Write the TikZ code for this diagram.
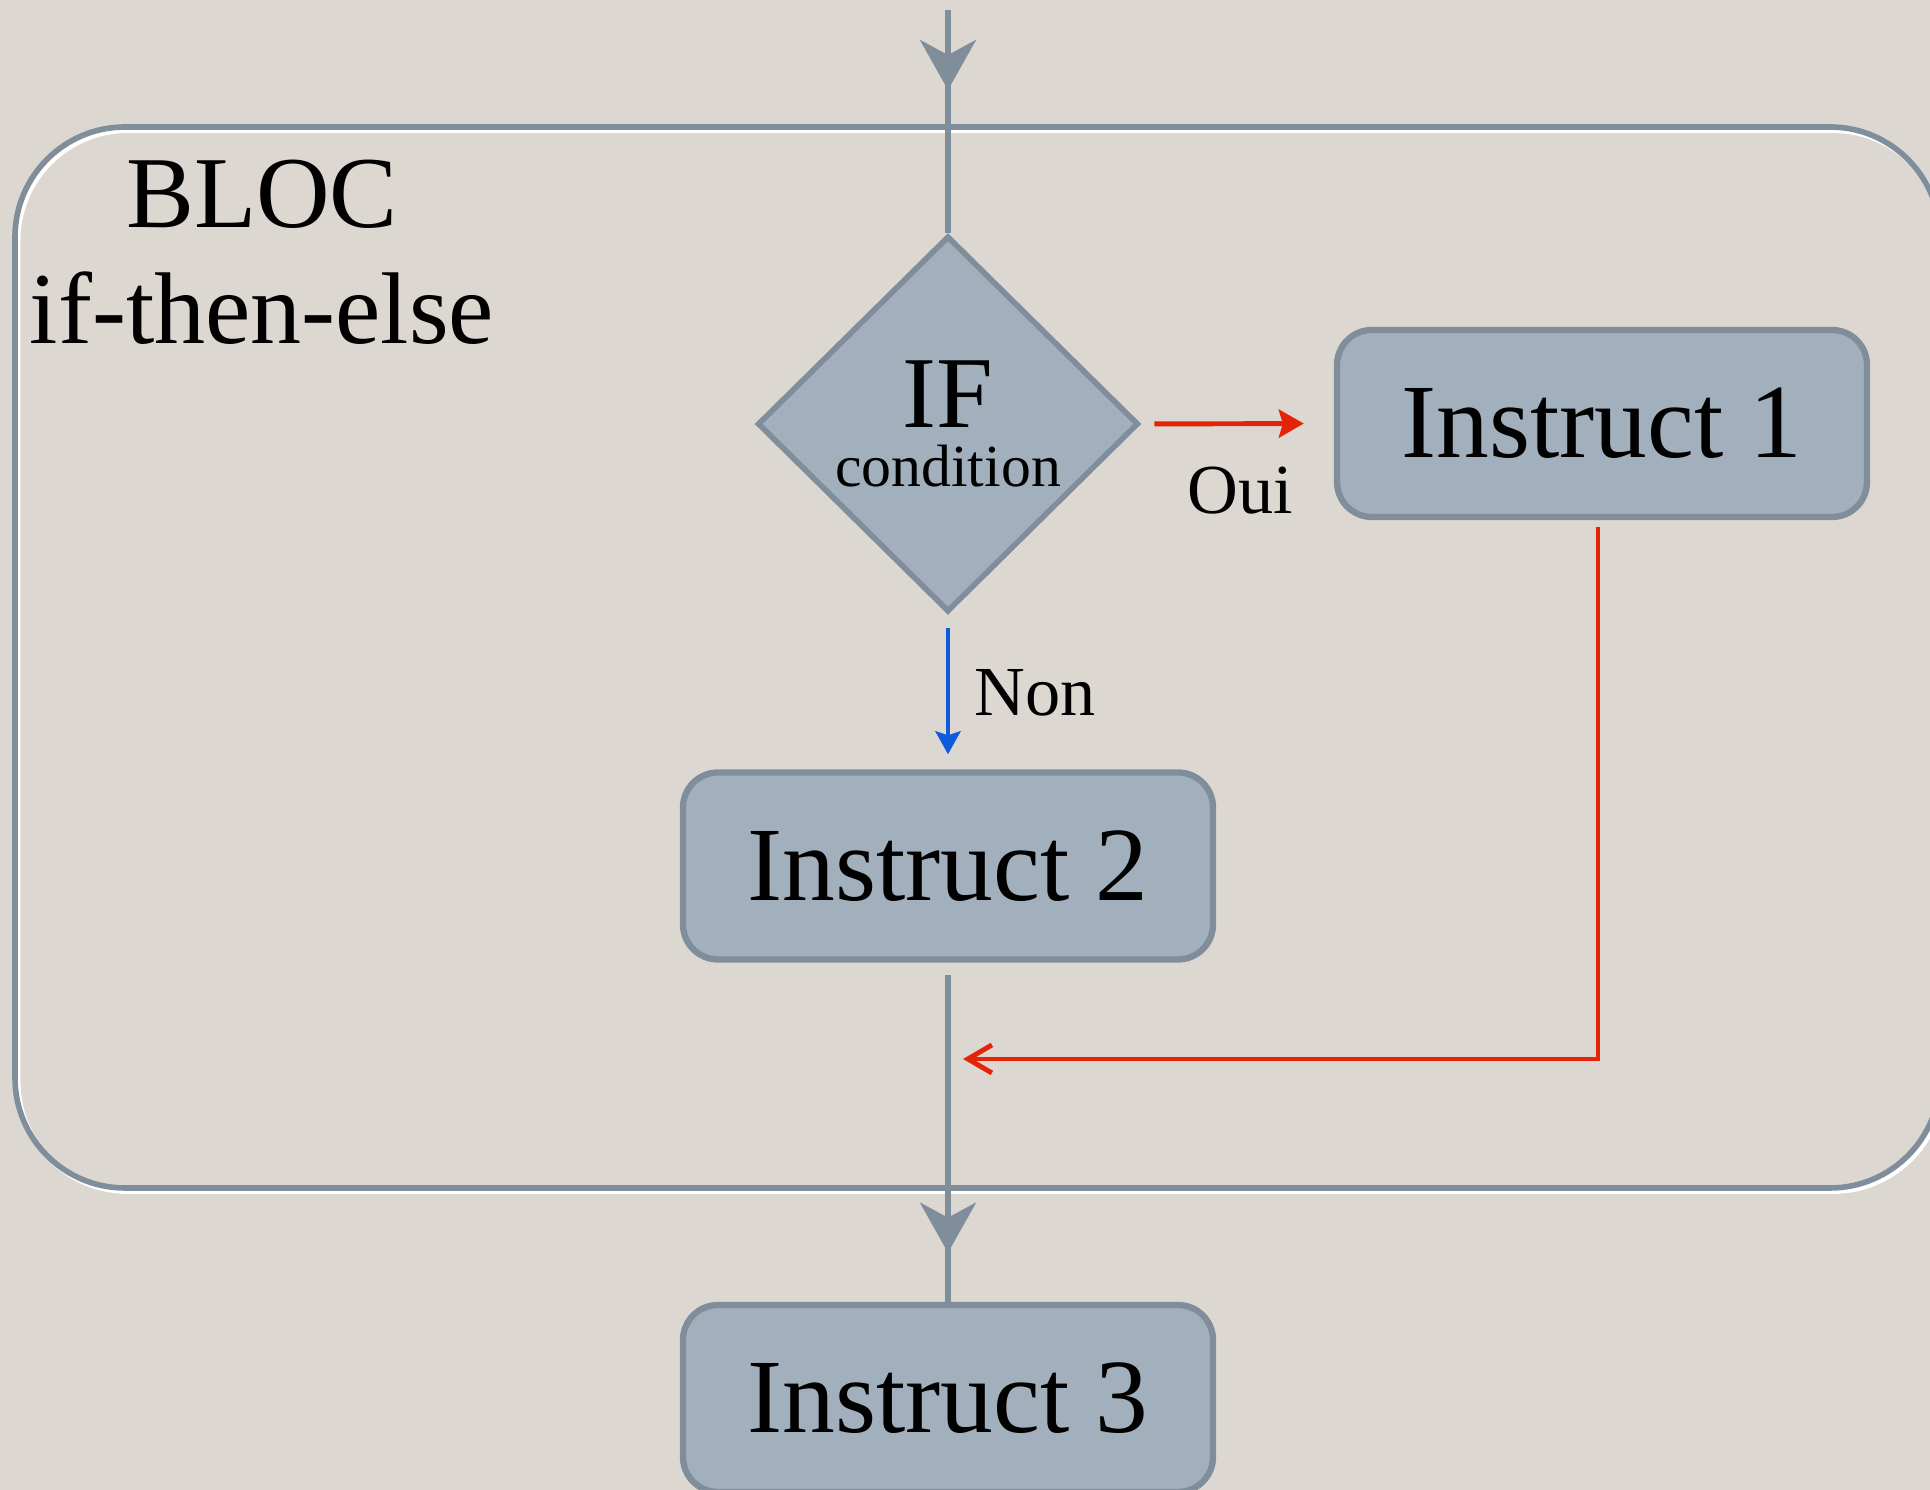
\documentclass[tikz,border=0pt]{standalone}
\usepackage{fontspec}
\setmainfont{Liberation Serif}
\usetikzlibrary{shapes.geometric,arrows.meta,decorations.markings,shadows}
\definecolor{fond}{RGB}{220,216,209}
\definecolor{ardoise}{RGB}{128,142,156}
\definecolor{bleugris}{RGB}{161,176,188}
\definecolor{rouge}{RGB}{228,36,8}
\definecolor{bleu}{RGB}{16,90,222}

\begin{document}
\begin{tikzpicture}[
    cadre/.style={draw=ardoise, line width=1.6pt, rounded corners=1.1cm},
    instr/.style={rectangle, draw=ardoise, line width=1.8pt, fill=bleugris, rounded corners=0.35cm, minimum width=5.3cm, minimum height=1.87cm, font=\fontsize{30}{33}\selectfont, drop shadow={fill=white, opacity=0.9, shadow xshift=0.5pt, shadow yshift=-0.7pt}},
    test/.style={diamond, draw=ardoise, line width=1.6pt, fill=bleugris, minimum width=3.81cm, minimum height=3.76cm, inner sep=0pt, align=center, font=\fontsize{29}{17}\selectfont, drop shadow={fill=white, opacity=0.9, shadow xshift=0.5pt, shadow yshift=-0.7pt}},
    lien/.style={draw=ardoise, line width=1.7pt},
    lienfleche/.style={lien, decoration={markings, mark=at position #1 with {\arrow{Stealth[length=0.5cm, width=0.56cm, inset=0.15cm, color=ardoise]}}}, postaction={decorate}},
    oui/.style={-{Stealth[length=0.25cm, width=0.28cm, inset=0.04cm]}, draw=rouge, line width=1.4pt},
    retour/.style={-{Straight Barb[length=0.24cm, width=0.28cm]}, draw=rouge, line width=1.4pt},
    non/.style={-{Stealth[length=0.23cm, width=0.25cm, inset=0.04cm]}, draw=bleu, line width=1.4pt},
    etiq/.style={font=\fontsize{20}{24}\selectfont},
]
\clip (0,0) rectangle (19.3,14.9);
\fill[fond] (0,0) rectangle (19.3,14.9);

\draw[white, line width=1.4pt, rounded corners=1.1cm] (0.18,2.985) rectangle (19.43,13.595);
\draw[cadre] (0.15,3.02) rectangle (19.40,13.63);
\node[align=center, font=\fontsize{29}{33}\selectfont] (titre) at (2.62,12.38) {BLOC\\if-then-else};

\node[test] (cond) at (9.48,10.66) {IF\\{\fontsize{17}{17}\selectfont condition}};
\node[instr] (instr1) at (16.02,10.665) {Instruct 1};
\node[instr] (instr2) at (9.48,6.24) {Instruct 2};
\node[instr] (instr3) at (9.48,0.915) {Instruct 3};

\coordinate (entree) at (9.48,14.8);
\coordinate (jonction) at (9.48,4.31);

\draw[lienfleche=0.8cm] (entree) -- (cond.north);
\draw[oui, shorten <=0.13cm, shorten >=0.30cm] (cond.east) -- (instr1.west);
\draw[non, shorten <=0.13cm, shorten >=0.15cm] (cond.south) -- (instr2.north);
\draw[lienfleche=2.9cm, shorten <=0.12cm] (instr2.south) -- (instr3.north);
\draw[retour, shorten <=0.07cm, shorten >=0.15cm] ([xshift=-0.04cm]instr1.south) |- (jonction);

\node[etiq] (oui) at (12.40,9.99) {Oui};
\node[etiq] (non) at (10.35,7.97) {Non};
\end{tikzpicture}
\end{document}
